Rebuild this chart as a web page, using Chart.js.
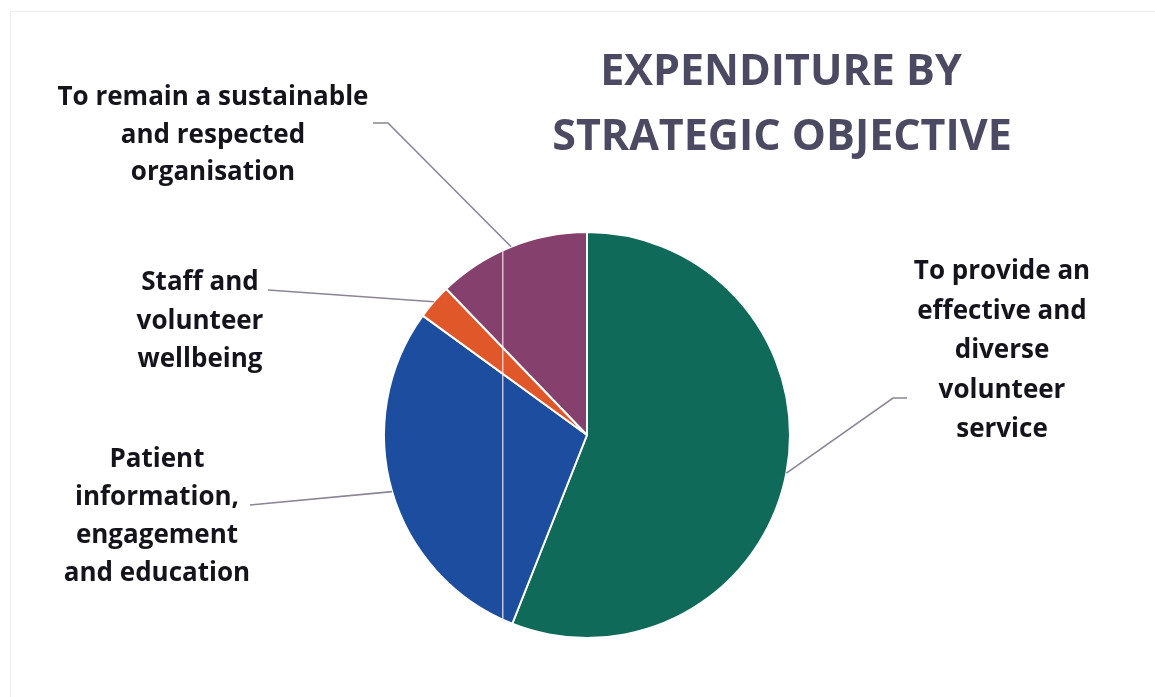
<!DOCTYPE html>
<html>
<head>
<meta charset="utf-8">
<title>Expenditure by strategic objective</title>
<script src="https://cdn.jsdelivr.net/npm/chart.js@4/dist/chart.umd.min.js"></script>
<style>
  html, body { margin: 0; padding: 0; background: #fff; }
  #wrap { width: 1155px; height: 697px; position: relative; }
</style>
</head>
<body>
<div id="wrap"><canvas id="chart" width="1155" height="697"></canvas></div>
<script>
var categories = [
  'To provide an effective and diverse volunteer service',
  'Patient information, engagement and education',
  'Staff and volunteer wellbeing',
  'To remain a sustainable and respected organisation'
];
var shares = [56, 29, 2.8, 12.2];
var sliceColors = ['#0f6a5a', '#1c4d9e', '#e0572a', '#86406d'];
var titleLines = ['EXPENDITURE BY', 'STRATEGIC OBJECTIVE'];
var labelLines = [
  ['To provide an', 'effective and', 'diverse', 'volunteer', 'service'],
  ['Patient', 'information,', 'engagement', 'and education'],
  ['Staff and', 'volunteer', 'wellbeing'],
  ['To remain a sustainable', 'and respected', 'organisation']
];

(function () {
  // where each label block sits and where its leader line starts
  var labelPos = [
    { x: 1002, y: 272, lh: 39.5, from: [[907, 398], [893, 398]] },
    { x: 157, y: 460, lh: 38, from: [[250, 505]] },
    { x: 200, y: 283, lh: 38.5, from: [[268, 290]] },
    { x: 213, y: 98, lh: 37.5, from: [[373, 123], [388, 123]] }
  ];
  var textColor = '#15141c';
  var lineColor = '#8c8498';
  var font = '"Open Sans", "Lato", sans-serif';

  var decorations = {
    id: 'decorations',
    afterDatasetsDraw: function (chart) {
      var ctx = chart.ctx;
      var arcs = chart.getDatasetMeta(0).data;
      ctx.save();

      // faint scan line through the pie
      var a0 = arcs[0];
      ctx.strokeStyle = 'rgba(255,235,242,0.75)';
      ctx.lineWidth = 1.5;
      ctx.beginPath();
      ctx.moveTo(a0.x - a0.outerRadius * 0.415, a0.y - a0.outerRadius * 0.92);
      ctx.lineTo(a0.x - a0.outerRadius * 0.415, a0.y + a0.outerRadius * 0.92);
      ctx.stroke();

      // leader lines
      ctx.strokeStyle = lineColor;
      ctx.lineWidth = 1.6;
      arcs.forEach(function (arc, i) {
        var mid = (arc.startAngle + arc.endAngle) / 2;
        var ex = arc.x + Math.cos(mid) * arc.outerRadius;
        var ey = arc.y + Math.sin(mid) * arc.outerRadius;
        var pts = labelPos[i].from;
        ctx.beginPath();
        ctx.moveTo(pts[0][0], pts[0][1]);
        for (var k = 1; k < pts.length; k++) ctx.lineTo(pts[k][0], pts[k][1]);
        ctx.lineTo(ex, ey);
        ctx.stroke();
      });

      // labels
      ctx.fillStyle = textColor;
      ctx.font = 'bold 26px ' + font;
      ctx.textAlign = 'center';
      ctx.textBaseline = 'middle';
      labelLines.forEach(function (lines, i) {
        var p = labelPos[i];
        lines.forEach(function (t, j) {
          ctx.fillText(t, p.x, p.y + j * p.lh);
        });
      });

      // title
      ctx.fillStyle = '#4c4a62';
      ctx.font = 'bold 43px ' + font;
      ctx.fillText(titleLines[0], 781, 73);
      ctx.fillText(titleLines[1], 782, 138);

      // faint frame
      ctx.strokeStyle = 'rgba(215,200,210,0.35)';
      ctx.lineWidth = 1;
      ctx.strokeRect(10.5, 11.5, 1200, 800);
      ctx.restore();
    }
  };

  new Chart(document.getElementById('chart'), {
    type: 'pie',
    data: {
      labels: categories,
      datasets: [{
        data: shares,
        backgroundColor: sliceColors,
        borderColor: '#ffffff',
        borderWidth: 2
      }]
    },
    options: {
      responsive: false,
      animation: false,
      layout: { padding: { top: 231, bottom: 58, left: 383, right: 364 } },
      plugins: {
        legend: { display: false },
        tooltip: { enabled: false },
        title: { display: false }
      }
    },
    plugins: [decorations]
  });
})();
</script>
</body>
</html>
